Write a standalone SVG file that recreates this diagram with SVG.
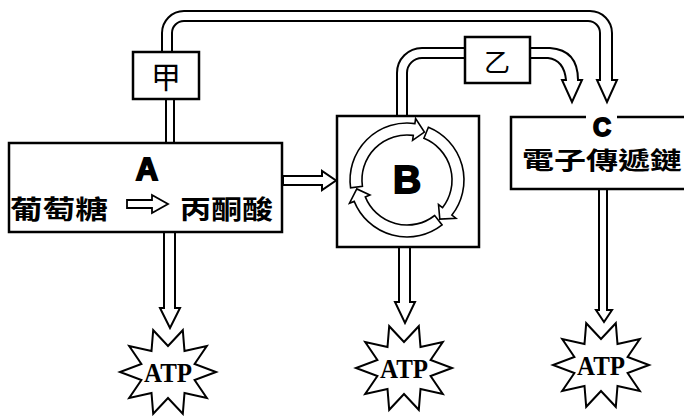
<svg xmlns="http://www.w3.org/2000/svg" width="684" height="416" viewBox="0 0 684 416">
<style>
.box{fill:#fff;stroke:#000;stroke-width:2.5}
.pipe{fill:#fff;stroke:#000;stroke-width:2;stroke-linejoin:miter}
.line{fill:none;stroke:#000;stroke-width:2}
.cjk{font-family:"Noto Sans CJK TC","Noto Sans CJK SC","Noto Sans CJK JP",sans-serif;font-weight:700;fill:#000}
.cjkr{font-family:"Noto Sans CJK TC","Noto Sans CJK SC","Noto Sans CJK JP",sans-serif;font-weight:400;fill:#000}
.big{font-family:"Liberation Sans",Arial,sans-serif;font-weight:700;fill:#000;stroke:#000;stroke-width:1.8;text-anchor:middle}
.atp{font-family:"Liberation Serif","Times New Roman",serif;font-weight:700;font-size:28px;fill:#000;text-anchor:middle}
.ring{fill:#fff;stroke:#000;stroke-width:1.6;stroke-linejoin:miter}
.star{fill:#fff;stroke:#000;stroke-width:2}
</style>
<defs>
<polygon id="starShape" class="star" points="48,0 26.6,8 38.8,25.9 16.5,21 14.8,41.8 0,26 -14.8,41.8 -16.5,21 -38.8,25.9 -26.6,8 -48,0 -26.6,-8 -38.8,-25.9 -16.5,-21 -14.8,-41.8 0,-26 14.8,-41.8 16.5,-21 38.8,-25.9 26.6,-8"/>
</defs>
<rect width="684" height="416" fill="#fff"/>

<g id="connectors">
  <path class="line" d="M166,99 V143 M174,99 V143"/>
  <path class="pipe" d="M162,52 V33 A22,22 0 0 1 184,11 H590 A22,22 0 0 1 612,33 V80 H617 L607,102 L597,80 H600 V33 A12,12 0 0 0 588,21 H184 A12,12 0 0 0 172,33 V52"/>
  <path class="line" d="M397,116 V73 A25,25 0 0 1 422,48 H465 M407,116 V73 A15,15 0 0 1 422,58 H465"/>
  <path class="pipe" d="M530,48 H550 Q578,50 578,80 H582 L572,102 L562,80 H566 Q564,60 548,58 H530"/>
  <path class="pipe" d="M283,176 H322 V171 L336,180.5 L322,190 V185 H283 Z"/>
  <path class="pipe" d="M164,232 V308 H160 L170,328 L180,308 H175 V232"/>
  <path class="pipe" d="M399,247 V302 H395 L405,323 L415,302 H410 V247"/>
  <path class="pipe" d="M599,189 V310 H596 L604,322 L612,310 H607 V189"/>
</g>

<g id="nodeJia">
  <rect class="box" x="133" y="52" width="66" height="47"/>
  <text class="cjkr" x="166" y="88" font-size="30" text-anchor="middle">甲</text>
</g>

<g id="nodeYi">
  <rect class="box" x="465" y="37" width="65" height="46"/>
  <text class="cjkr" x="497" y="72" font-size="26" text-anchor="middle">乙</text>
</g>

<g id="nodeA">
  <rect class="box" x="9" y="143" width="273" height="89"/>
  <text class="big" x="147" y="180" font-size="31">A</text>
  <text class="cjk" x="10" y="219" font-size="26" textLength="98" lengthAdjust="spacingAndGlyphs">葡萄糖</text>
  <path class="pipe" d="M127,200 H152 V195 L168,204 L152,213 V208 H127 Z" style="stroke-width:1.8"/>
  <text class="cjk" x="180" y="219" font-size="26" textLength="93" lengthAdjust="spacingAndGlyphs">丙酮酸</text>
</g>

<g id="nodeB">
  <rect class="box" x="337" y="116" width="142" height="131"/>
  <path class="ring" d="M350.6,187.9 A57,57 0 0 1 414.9,123.6 L415.6,118.6 L424.4,132.1 L412.6,140.4 L413.3,135.4 A45,45 0 0 0 362.4,186.3 Z"/>
  <path class="ring" d="M428.4,127.2 A57,57 0 0 1 451.9,215.1 L455.9,218.2 L439.8,219.1 L438.5,204.6 L442.5,207.7 A45,45 0 0 0 423.9,138.3 Z"/>
  <path class="ring" d="M442.1,224.9 A57,57 0 0 1 354.2,201.4 L349.5,203.2 L356.8,188.9 L369.9,195 L365.3,196.9 A45,45 0 0 0 434.7,215.5 Z"/>
  <text class="big" x="407" y="193" font-size="39">B</text>
</g>

<g id="nodeC">
  <path class="line" d="M586,117 H511 V189 H684" style="stroke-width:2.5"/>
  <path class="line" d="M617,117 H684" style="stroke-width:2.5"/>
  <text class="big" x="602" y="136" font-size="25">C</text>
  <text class="cjk" x="522" y="169" font-size="24" textLength="160" lengthAdjust="spacingAndGlyphs">電子傳遞鏈</text>
</g>

<g id="atpA">
  <use href="#starShape" transform="translate(168,372)"/>
  <text class="atp" x="168" y="382" textLength="48" lengthAdjust="spacingAndGlyphs">ATP</text>
</g>
<g id="atpB">
  <use href="#starShape" transform="translate(404,368)"/>
  <text class="atp" x="404" y="378" textLength="48" lengthAdjust="spacingAndGlyphs">ATP</text>
</g>
<g id="atpC">
  <use href="#starShape" transform="translate(601,365)"/>
  <text class="atp" x="601" y="375" textLength="48" lengthAdjust="spacingAndGlyphs">ATP</text>
</g>
</svg>
